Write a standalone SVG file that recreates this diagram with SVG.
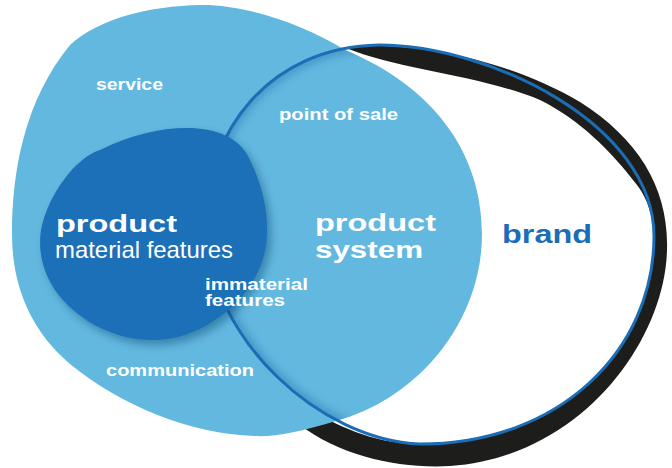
<svg xmlns="http://www.w3.org/2000/svg" width="672" height="468" viewBox="0 0 672 468">
  <style>
    .lbl { font-family: "Liberation Sans", Arial, sans-serif; font-weight: bold; fill: #ffffff; }
    .thin { font-family: "Liberation Sans", Arial, sans-serif; font-weight: normal; fill: #ffffff; }
    .brandtxt { font-family: "Liberation Sans", Arial, sans-serif; font-weight: bold; fill: #1c6db5; }
  </style>
  <defs>
    <path id="lightPath" d="M200,5 C240,4 300,22 345,50 C430,85 482,150 482,234 C482,320 420,398 336,421 C300,432 275,437 255,436 C190,434 120,405 70,364 C30,330 12,285 12,234 C12,170 25,100 70,45 C100,18 150,6 200,5 Z"/>
    <path id="brandPath" d="M205,228 C205,130 270,47 379,45 C490,45 654,125 654,236 C654,350 560,444 420,444 C320,440 210,340 205,228 Z"/>
    <path id="prodPath" d="M187,128 C215,128 240,137 250,160 C262,185 268,210 267,234 C266,270 245,300 215,320 C195,334 170,341 150,340 C110,339 75,318 55,290 C42,270 38,250 41,230 C48,195 75,158 100,150 C130,135 160,128 187,128 Z"/>
    <clipPath id="clipLight"><use href="#lightPath"/></clipPath>
    <clipPath id="clipBrand"><use href="#brandPath"/></clipPath>
    <filter id="blur" x="-20%" y="-20%" width="140%" height="140%">
      <feGaussianBlur stdDeviation="4"/>
    </filter>
    <filter id="drop" x="-20%" y="-20%" width="150%" height="150%">
      <feGaussianBlur in="SourceAlpha" stdDeviation="4"/>
      <feOffset dx="4" dy="5" result="o"/>
      <feFlood flood-color="#0b4470" flood-opacity="0.45"/>
      <feComposite in2="o" operator="in" result="s"/>
      <feMerge><feMergeNode in="s"/><feMergeNode in="SourceGraphic"/></feMerge>
    </filter>
  </defs>

  <rect width="672" height="468" fill="#ffffff"/>

  <g id="brand">
    <use href="#brandPath" fill="#ffffff"/>
    <path d="M346,48 C400,40 500,55 580,102 C640,140 669,190 667,250 C665,340 582,457 450,466 C400,469 340,456 300,425 L310,410 C345,430 380,444 420,444 C560,444 654,350 654,236 C654,215 645,195 637,185 C610,150 580,120 540,100 C480,75 400,70 346,48 Z" fill="#1d1d1b"/>
  </g>

  <g id="product-system">
    <use href="#lightPath" fill="#63b8df"/>
    <g clip-path="url(#clipLight)">
      <g clip-path="url(#clipBrand)">
        <use href="#brandPath" fill="none" stroke="#2b78b3" stroke-width="10" opacity="0.55" filter="url(#blur)"/>
      </g>
    </g>
  </g>

  <g id="brand-outline">
    <use href="#brandPath" fill="none" stroke="#1b6db5" stroke-width="3"/>
  </g>

  <g id="product">
    <use href="#prodPath" fill="#1c6fb8" filter="url(#drop)"/>
  </g>

  <g id="connectors"/>

  <g id="labels">
    <text class="lbl" x="96" y="90" font-size="17" textLength="67" lengthAdjust="spacingAndGlyphs">service</text>
    <text class="lbl" x="279" y="120" font-size="17" textLength="119" lengthAdjust="spacingAndGlyphs">point of sale</text>
    <text class="lbl" x="56" y="232" font-size="24" textLength="121" lengthAdjust="spacingAndGlyphs">product</text>
    <text class="thin" x="55" y="258" font-size="24" textLength="178" lengthAdjust="spacingAndGlyphs">material features</text>
    <text class="lbl" x="315" y="231" font-size="24" textLength="121" lengthAdjust="spacingAndGlyphs">product</text>
    <text class="lbl" x="315" y="258" font-size="24" textLength="108" lengthAdjust="spacingAndGlyphs">system</text>
    <text class="brandtxt" x="502" y="243" font-size="25" textLength="90" lengthAdjust="spacingAndGlyphs">brand</text>
    <text class="lbl" x="205" y="290" font-size="16" textLength="103" lengthAdjust="spacingAndGlyphs">immaterial</text>
    <text class="lbl" x="205" y="306" font-size="16" textLength="80" lengthAdjust="spacingAndGlyphs">features</text>
    <text class="lbl" x="106" y="376" font-size="16" textLength="148" lengthAdjust="spacingAndGlyphs">communication</text>
  </g>
</svg>
